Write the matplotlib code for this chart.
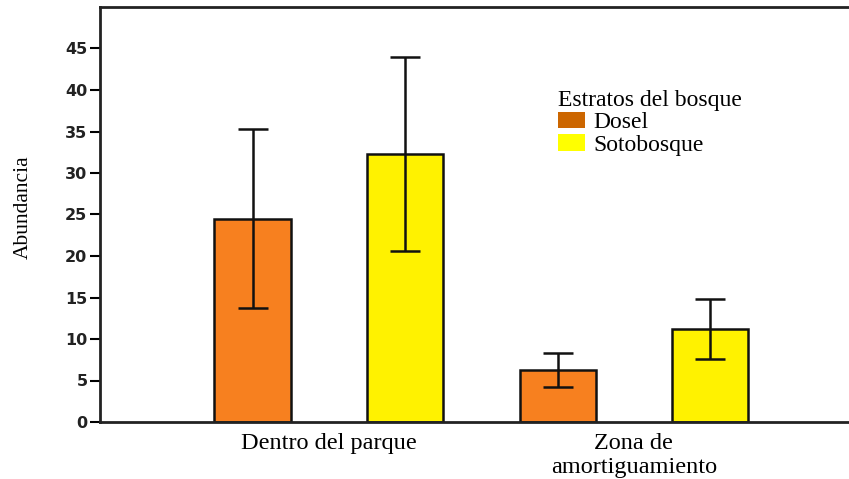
import matplotlib
matplotlib.use("Agg")
import matplotlib.pyplot as plt
import matplotlib.patches as mpatches

groups = ["Dentro del parque", "Zona de\namortiguamiento"]
strata = ["Dosel", "Sotobosque"]
dosel_mean = [24.5, 6.3]
dosel_err = [10.8, 2.05]
soto_mean = [32.3, 11.2]
soto_err = [11.7, 3.65]
yticks = [0, 5, 10, 15, 20, 25, 30, 35, 40, 45]

bar_colors = ["#F7801F", "#FFF200"]
legend_colors = ["#CC6600", "#FFFF00"]

fig = plt.figure(figsize=(8.49, 4.79), dpi=100)
ax = fig.add_axes([100/849, 57/479, 749/849, 415/479])

pos_d = [1, 3]
pos_s = [2, 4]
w = 0.5
ekw = dict(elinewidth=1.8, capthick=1.8, ecolor="#111111")
ax.bar(pos_d, dosel_mean, width=w, color=bar_colors[0], edgecolor="#111111",
       linewidth=1.8, yerr=dosel_err, capsize=10.8, error_kw=ekw, zorder=2)
ax.bar(pos_s, soto_mean, width=w, color=bar_colors[1], edgecolor="#111111",
       linewidth=1.8, yerr=soto_err, capsize=10.8, error_kw=ekw, zorder=2)

ax.set_xlim(0.0, 4.91)
ax.set_ylim(0, 50)
ax.set_yticks(yticks)
ax.set_yticklabels([str(t) for t in yticks], family="DejaVu Sans",
                   fontweight="bold", fontsize=11.5, color="#222222")
ax.tick_params(axis="y", length=7, width=1.5, pad=2)
ax.set_xticks([1.5, 3.5])
ax.set_xticklabels(groups, family="Liberation Serif", fontsize=17.5,
                   linespacing=1.15)
ax.tick_params(axis="x", length=0, pad=8)

for s in ["left", "bottom", "top"]:
    ax.spines[s].set_linewidth(2.0)
    ax.spines[s].set_color("#222222")
ax.spines["right"].set_visible(False)

ax.set_ylabel("Abundancia", family="Liberation Serif", fontsize=15.5)
ax.yaxis.set_label_coords(-0.09, 0.518)

handles = [mpatches.Patch(facecolor=c, edgecolor="none", label=l)
           for c, l in zip(legend_colors, strata)]
leg = ax.legend(handles=handles, title="Estratos del bosque", frameon=False,
                loc="upper left", bbox_to_anchor=(541/849, 1 - 73/479),
                bbox_transform=fig.transFigure,
                prop={"family": "Liberation Serif", "size": 17},
                title_fontproperties={"family": "Liberation Serif", "size": 17},
                handlelength=1.15, handleheight=0.7, handletextpad=0.35,
                labelspacing=0.05, borderpad=0.2)
leg._legend_box.align = "left"

fig.savefig("out.png", dpi=100)
